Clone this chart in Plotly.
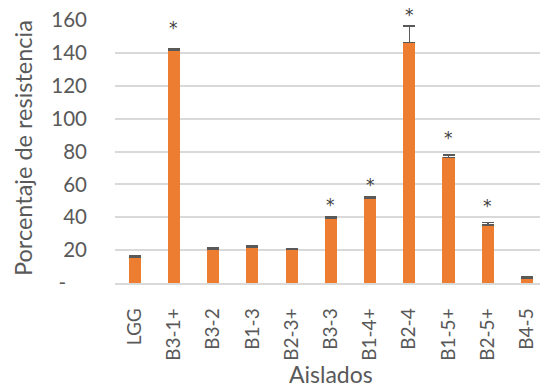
import plotly.graph_objects as go

# Resistance percentage per isolate, with standard error
aislados = ["LGG", "B3-1+", "B3-2", "B1-3", "B2-3+", "B3-3", "B1-4+", "B2-4", "B1-5+", "B2-5+", "B4-5"]
resistencia = [15.9, 141.9, 20.5, 21.8, 20.4, 39.5, 51.5, 146.3, 76.5, 35.4, 3.0]
error = [0.8, 0.8, 0.8, 0.8, 0.6, 1.0, 0.9, 10.0, 1.5, 1.4, 0.7]

# Significance marks (asterisk height on the value axis)
signif = ["B3-1+", "B3-3", "B1-4+", "B2-4", "B1-5+", "B2-5+"]
signif_y = [157, 49.4, 61.6, 165, 90, 48.4]

y_ticks = [0, 20, 40, 60, 80, 100, 120, 140, 160]
y_ticktext = ["-\u00a0\u00a0\u00a0\u00a0"] + [str(v) for v in y_ticks[1:]]

FONT = "Lato, Calibri, Carlito, sans-serif"
GREY_TEXT = "#595959"

W, H = 540, 389
ML, MR, MT, MB = 115, 0, 20, 106
PW, PH = W - ML - MR, H - MT - MB
Y_MAX = 160


def px_x(px):
    return (px - ML) / PW


def px_y(py):
    return (MT + PH - py) / PH


fig = go.Figure()
fig.add_trace(go.Bar(
    x=aislados,
    y=resistencia,
    width=0.31,
    marker=dict(color="#ed7d31", line=dict(width=0)),
    error_y=dict(type="data", array=error, arrayminus=[0] * len(error),
                 visible=True, color="#595959", thickness=1.5, width=6),
))

# asterisks: x on the category axis, y converted to paper units so marks above the top still show
for name, yv in zip(signif, signif_y):
    fig.add_annotation(x=name, y=yv / Y_MAX, xref="x", yref="paper", text="*",
                       showarrow=False, font=dict(family="DejaVu Sans", size=17, color="#404040"),
                       yanchor="middle", yshift=-3)

# Axis titles
fig.add_annotation(x=px_x(331), y=px_y(374), xref="paper", yref="paper", text="Aislados",
                   showarrow=False, font=dict(family=FONT, size=23, color=GREY_TEXT),
                   xanchor="center", yanchor="middle")
fig.add_annotation(x=px_x(23), y=px_y(148), xref="paper", yref="paper",
                   text="Porcentaje de resistencia", textangle=-90, showarrow=False,
                   font=dict(family=FONT, size=23.5, color=GREY_TEXT),
                   xanchor="center", yanchor="middle")

fig.update_layout(
    width=W, height=H,
    margin=dict(l=ML, r=MR, t=MT, b=MB),
    paper_bgcolor="white", plot_bgcolor="white",
    showlegend=False,
    font=dict(family=FONT, color=GREY_TEXT),
    bargap=0,
)

fig.update_xaxes(
    type="category",
    range=[-0.5, 10.33],
    tickangle=-90,
    tickfont=dict(family=FONT, size=19, color=GREY_TEXT),
    showline=True, linecolor="#d9d9d9", linewidth=1.5,
    showgrid=False, ticks="", ticklabelstandoff=16,
)
fig.update_yaxes(
    range=[0, Y_MAX],
    tickvals=y_ticks, ticktext=y_ticktext,
    tickfont=dict(family=FONT, size=20.5, color=GREY_TEXT),
    showgrid=True, gridcolor="#d9d9d9", gridwidth=1.5,
    zeroline=False, showline=False, ticks="", ticklabelstandoff=27,
)

fig.write_html("out.html")
